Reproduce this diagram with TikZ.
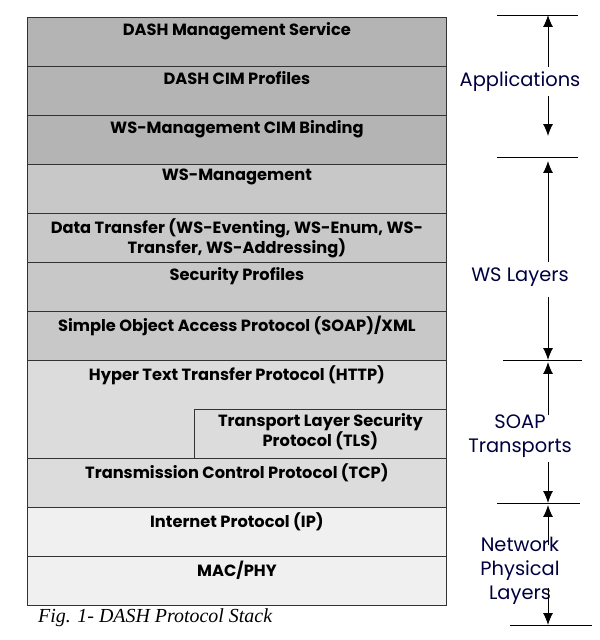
\documentclass[tikz,border=0pt]{standalone}
\usepackage{fontspec}
\setmainfont{Poppins}
\newfontfamily\capfont{Liberation Serif}
\usetikzlibrary{arrows.meta,positioning}

\definecolor{appgray}{HTML}{B4B4B4}
\definecolor{wsgray}{HTML}{C8C8C8}
\definecolor{soapgray}{HTML}{DCDCDC}
\definecolor{netgray}{HTML}{F0F0F0}

\tikzset{
  layer/.style={draw=black!80,line width=0.8pt,anchor=north west,minimum width=419bp,minimum height=49bp,inner sep=0pt},
  layertext/.style={font=\fontsize{16.3}{20.5}\selectfont\bfseries,align=center,inner sep=0pt},
  sidetext/.style={font=\fontsize{19.5}{24}\selectfont,text=blue!25!black,align=center,inner sep=0pt},
  sideline/.style={line width=0.8pt},
  sidearrow/.style={line width=1pt,-{Latex[length=12pt,width=10pt]}}
}

\begin{document}
\begin{tikzpicture}[x=1bp,y=-1bp]
\useasboundingbox (0,0) rectangle (600,640);

\def\rowh{49}
\def\stacktop{17}

\newcommand\stacklayer[4]
{
    \node (#1) [layer,fill=#3] at (27,\stacktop+#2*\rowh) {};
    \node (#1-txt) [layertext,below=5bp of #1.north] {#4};
}

\stacklayer{dms}{0}{appgray}{DASH Management Service}
\stacklayer{cim}{1}{appgray}{DASH CIM Profiles}
\stacklayer{wscim}{2}{appgray}{WS-Management CIM Binding}
\stacklayer{wsman}{3}{wsgray}{WS-Management}
\stacklayer{dt}{4}{wsgray}{Data Transfer (WS-Eventing, WS-Enum, WS-\\Transfer, WS-Addressing)}
\stacklayer{sec}{5}{wsgray}{Security Profiles}
\stacklayer{soap}{6}{wsgray}{Simple Object Access Protocol (SOAP)/XML}
\node (http) [layer,fill=soapgray,minimum height=2*\rowh bp] at (27,\stacktop+7*\rowh) {};
\node (http-txt) [layertext,below=5bp of http.north] {Hyper Text Transfer Protocol (HTTP)};
\node (tls) [layer,fill=soapgray,minimum width=252bp] at (194,\stacktop+8*\rowh) {};
\node (tls-txt) [layertext,below=4bp of tls.north] {Transport Layer Security\\Protocol (TLS)};
\stacklayer{tcp}{9}{soapgray}{Transmission Control Protocol (TCP)}
\stacklayer{ip}{10}{netgray}{Internet Protocol (IP)}
\stacklayer{mac}{11}{netgray}{MAC/PHY}

\node (caption) [anchor=west,font=\capfont\itshape\fontsize{20}{22}\selectfont,inner sep=0pt] at (38,618) {Fig. 1- DASH Protocol Stack};

% group boundaries on the right
\coordinate (b0) at (548,15);
\coordinate (b1) at (548,157);
\coordinate (b2) at (548,360);
\coordinate (b3) at (548,503);
\coordinate (b4) at (548,625);
\draw [sideline] (497,15) -- (578,15);
\draw [sideline] (497,157) -- (578,157);
\draw [sideline] (503,360) -- (582,360);
\draw [sideline] (497,503) -- (580,503);
\draw [sideline] (510,625) -- (592,625);

\node (apps) [sidetext] at (520,82) {Applications};
\node (ws) [sidetext] at (520,277) {WS Layers};
\node (soapt) [sidetext] at (520,436) {SOAP\\Transports};
\node (net) [sidetext] at (520,571) {Network\\Physical\\Layers};

% arrow ends
\coordinate (a0s) at (548,67);  \coordinate (a1s) at (548,96);  \coordinate (a1e) at (548,136);
\coordinate (w0s) at (548,262); \coordinate (w0e) at (548,161); \coordinate (w1s) at (548,297);
\coordinate (s0s) at (548,415); \coordinate (s0e) at (548,362); \coordinate (s1s) at (548,462);
\coordinate (n0s) at (548,545); \coordinate (n0e) at (548,505); \coordinate (n1s) at (548,588);

\draw [sidearrow] (a0s) -- (b0);
\draw [sidearrow] (a1s) -- (a1e);
\draw [sidearrow] (w0s) -- (w0e);
\draw [sidearrow] (w1s) -- (b2);
\draw [sidearrow] (s0s) -- (s0e);
\draw [sidearrow] (s1s) -- (b3);
\draw [sidearrow] (n0s) -- (n0e);
\draw [sidearrow] (n1s) -- (b4);

\end{tikzpicture}
\end{document}
